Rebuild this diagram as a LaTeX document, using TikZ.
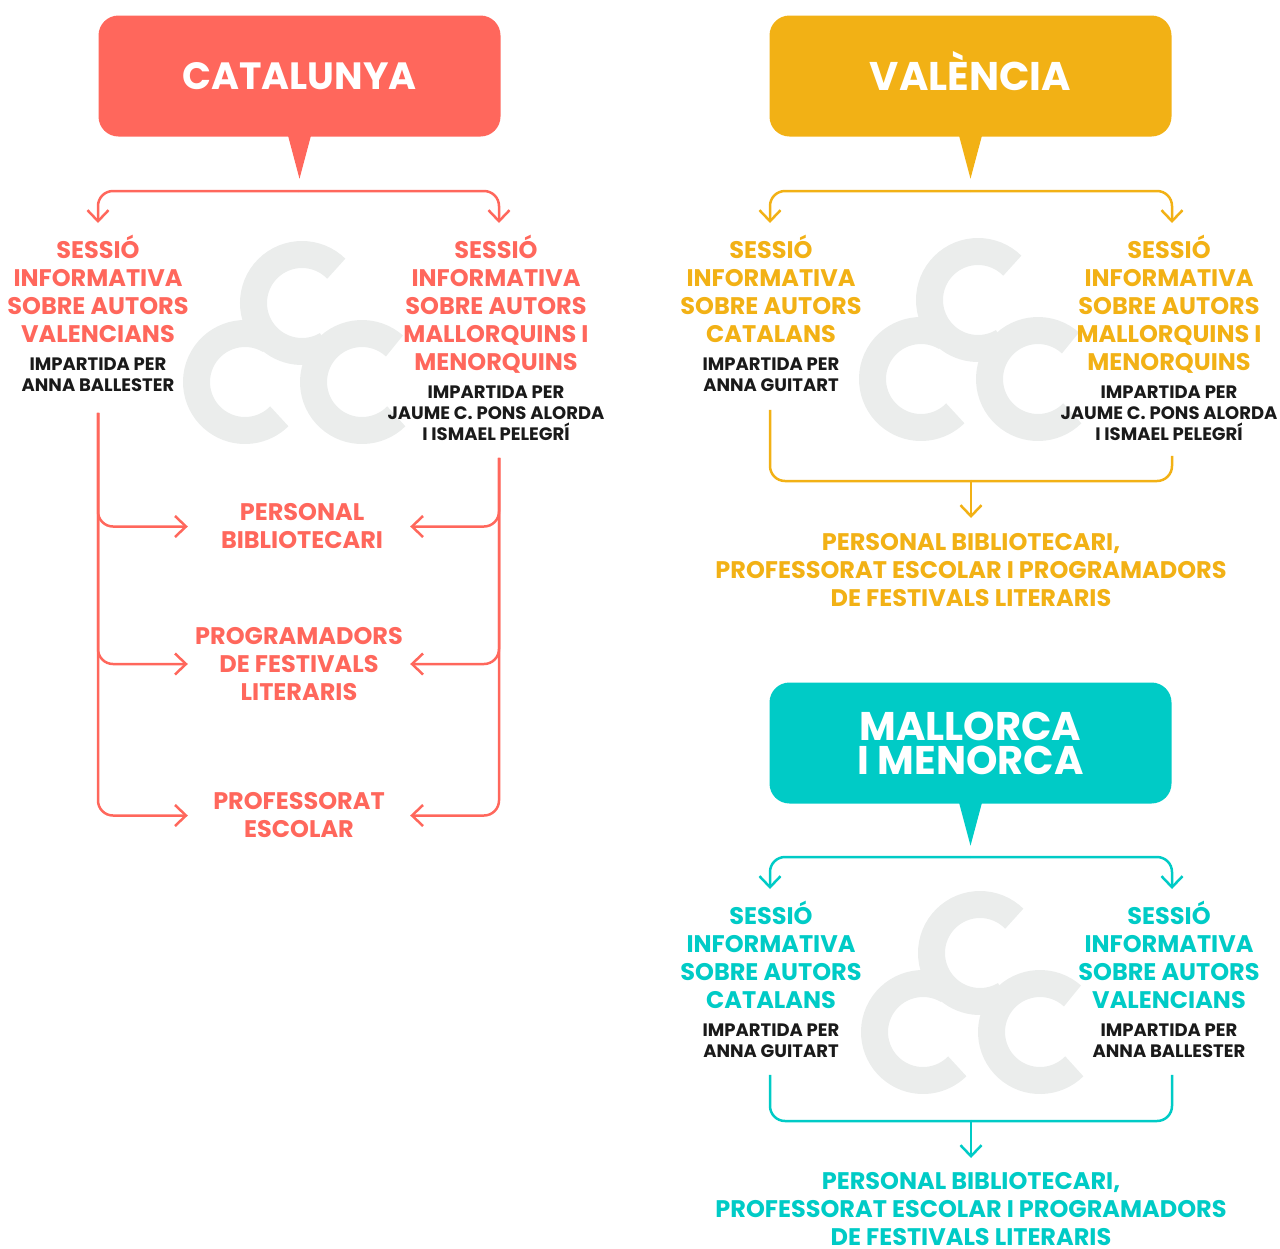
\documentclass[tikz,border=0pt]{standalone}
\usepackage{fontspec}
\setmainfont{Poppins}
\usetikzlibrary{arrows.meta,positioning}
\definecolor{catcolor}{HTML}{FF675C}
\definecolor{valcolor}{HTML}{F2B115}
\definecolor{balcolor}{HTML}{00CBC6}
\definecolor{logocolor}{HTML}{EBEDEC}
\definecolor{inkcolor}{HTML}{1A1A1A}
\newcommand{\cclogo}[2]{%
  \begin{scope}[shift={(#1,#2)}]
    \draw [logoring] (120,63) ++(45:48.5pt) arc [start angle=45,end angle=300,radius=48.5pt];
    \draw [logoring] (63,142) ++(60:48.5pt) arc [start angle=60,end angle=315,radius=48.5pt];
    \draw [logoring] (180,142) ++(48:48.5pt) arc [start angle=48,end angle=315,radius=48.5pt];
  \end{scope}}

\begin{document}
\begin{tikzpicture}[x=1pt,y=-1pt,>={Straight Barb[length=11pt,width=21pt]},node distance=12pt]
    \tikzstyle{logoring}=[line width=27pt,draw=logocolor]
    \tikzstyle{region}=[rectangle,rounded corners=20pt,minimum width=402pt,minimum height=121pt,
    inner sep=0pt,text=white,align=center,font=\bfseries\fontsize{38}{34}\selectfont]
    \tikzstyle{regionwide}=[region,font=\bfseries\fontsize{40}{34}\selectfont]
    \tikzstyle{topic}=[inner sep=0pt,align=center,font=\bfseries\fontsize{24}{28}\selectfont]
    \tikzstyle{speaker}=[inner sep=0pt,align=center,text=inkcolor,font=\bfseries\fontsize{18}{21}\selectfont]
    \tikzstyle{wire}=[line width=2.5pt,rounded corners=15pt]

    \useasboundingbox (0,0) rectangle (1280,1248);

    \cclogo{182}{240}
    \cclogo{858}{237}
    \cclogo{860}{890}

    % Catalunya
    \node [region,fill=catcolor] (cat) at (299.5,76) {CATALUNYA};
    \fill [catcolor] ([xshift=-12pt,yshift=3pt]cat.south) -- ([xshift=12pt,yshift=3pt]cat.south) -- ([yshift=-42pt]cat.south) -- cycle;
    \coordinate (cat-bar) at (298,191);
    \node [topic,catcolor,anchor=north] (cat-s1) at (98,235) {SESSIÓ\\INFORMATIVA\\SOBRE AUTORS\\VALENCIANS\vphantom{Q}};
    \node [speaker,below=of cat-s1] (cat-p1) {IMPARTIDA PER\\ANNA BALLESTER};
    \node [topic,catcolor,anchor=north] (cat-s2) at (496,235) {SESSIÓ\\INFORMATIVA\\SOBRE AUTORS\\MALLORQUINS I\\MENORQUINS};
    \node [speaker,below=of cat-s2] (cat-p2) {IMPARTIDA PER\\JAUME C. PONS ALORDA\\I ISMAEL PELEGRÍ};
    \node [topic,catcolor,minimum width=222pt] (cat-t1) at (299,526.5) {\hspace*{6pt}PERSONAL\\\hspace*{6pt}BIBLIOTECARI};
    \node [topic,catcolor,minimum width=222pt] (cat-t2) at (299,664) {PROGRAMADORS\\DE FESTIVALS\\LITERARIS};
    \node [topic,catcolor,minimum width=222pt] (cat-t3) at (299,815.5) {PROFESSORAT\\ESCOLAR};

    \draw [wire,catcolor,->,shorten >=12pt] (cat-bar) -| (cat-s1.north);
    \draw [wire,catcolor,->,shorten >=12pt] (cat-bar) -| ([xshift=3pt]cat-s2.north);
    \foreach \t in {cat-t1,cat-t2,cat-t3} {
      \draw [wire,catcolor,->,shorten <=21pt] (cat-p1.south) |- (\t.west);
      \draw [wire,catcolor,->,shorten <=17pt] ([xshift=3pt]cat-p2.south) |- (\t.east);
    }

    % Valencia
    \node [regionwide,fill=valcolor] (val) at (970.5,76) {VAL\smash{È}NCIA};
    \fill [valcolor] ([xshift=-12pt,yshift=3pt]val.south) -- ([xshift=12pt,yshift=3pt]val.south) -- ([yshift=-42pt]val.south) -- cycle;
    \coordinate (val-bar) at (970,191);
    \coordinate (val-join) at (971,481);
    \node [topic,valcolor,anchor=north] (val-s1) at (771,235) {SESSIÓ\\INFORMATIVA\\SOBRE AUTORS\\CATALANS\vphantom{Q}};
    \node [speaker,below=of val-s1] (val-p1) {IMPARTIDA PER\\ANNA GUITART};
    \node [topic,valcolor,anchor=north] (val-s2) at (1169,235) {SESSIÓ\\INFORMATIVA\\SOBRE AUTORS\\MALLORQUINS I\\MENORQUINS};
    \node [speaker,below=of val-s2] (val-p2) {IMPARTIDA PER\\JAUME C. PONS ALORDA\\I ISMAEL PELEGRÍ};
    \node [topic,valcolor,anchor=north] (val-t) at (971,533) {PERSONAL BIBLIOTECARI,\\PROFESSORAT ESCOLAR I PROGRAMADORS\\DE FESTIVALS LITERARIS};

    \draw [wire,valcolor,->,shorten >=12pt] (val-bar) -| ([xshift=-1pt]val-s1.north);
    \draw [wire,valcolor,->,shorten >=12pt] (val-bar) -| ([xshift=3pt]val-s2.north);
    \draw [wire,valcolor,shorten <=18pt] ([xshift=-1pt]val-p1.south) |- (val-join);
    \draw [wire,valcolor,shorten <=15pt] ([xshift=3pt]val-p2.south) |- (val-join);
    \draw [wire,valcolor,->,shorten >=15pt] (val-join) -- (val-t.north);

    % Mallorca i Menorca
    \node [regionwide,fill=balcolor] (bal) at (970.5,743) {MALLORCA\\I MENORCA};
    \fill [balcolor] ([xshift=-12pt,yshift=3pt]bal.south) -- ([xshift=12pt,yshift=3pt]bal.south) -- ([yshift=-42pt]bal.south) -- cycle;
    \coordinate (bal-bar) at (970,857);
    \coordinate (bal-join) at (971,1121);
    \node [topic,balcolor,anchor=north] (bal-s1) at (771,901) {SESSIÓ\\INFORMATIVA\\SOBRE AUTORS\\CATALANS\vphantom{Q}};
    \node [speaker,below=of bal-s1] (bal-p1) {IMPARTIDA PER\\ANNA GUITART};
    \node [topic,balcolor,anchor=north] (bal-s2) at (1169,901) {SESSIÓ\\INFORMATIVA\\SOBRE AUTORS\\VALENCIANS\vphantom{Q}};
    \node [speaker,below=of bal-s2] (bal-p2) {IMPARTIDA PER\\ANNA BALLESTER};
    \node [topic,balcolor,anchor=north] (bal-t) at (971,1172) {PERSONAL BIBLIOTECARI,\\PROFESSORAT ESCOLAR I PROGRAMADORS\\DE FESTIVALS LITERARIS};

    \draw [wire,balcolor,->,shorten >=12pt] (bal-bar) -| ([xshift=-1pt]bal-s1.north);
    \draw [wire,balcolor,->,shorten >=12pt] (bal-bar) -| ([xshift=3pt]bal-s2.north);
    \draw [wire,balcolor,shorten <=17pt] ([xshift=-1pt]bal-p1.south) |- (bal-join);
    \draw [wire,balcolor,shorten <=17pt] ([xshift=3pt]bal-p2.south) |- (bal-join);
    \draw [wire,balcolor,->,shorten >=14pt] (bal-join) -- (bal-t.north);

\end{tikzpicture}
\end{document}
